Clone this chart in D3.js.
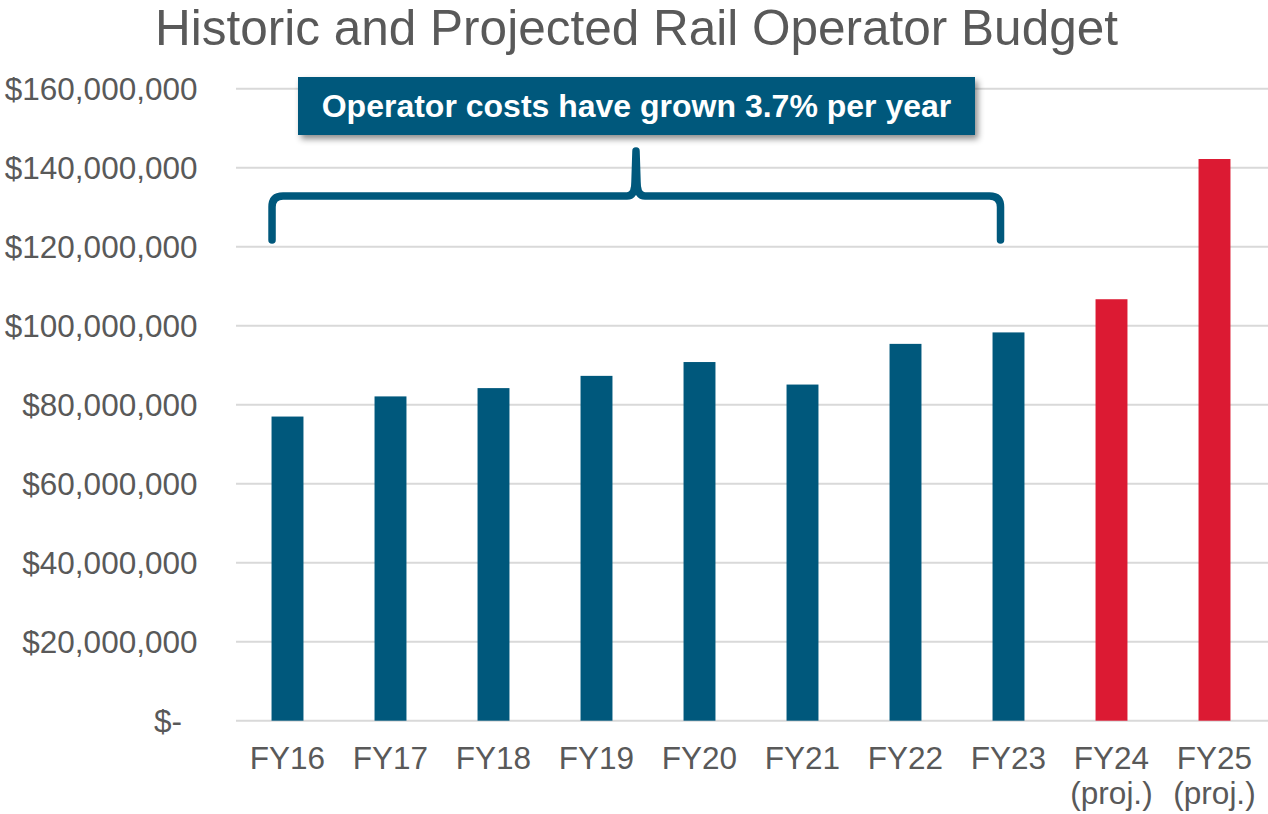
<!DOCTYPE html>
<html>
<head>
<meta charset="utf-8">
<script src="https://cdn.jsdelivr.net/npm/d3@7"></script>
<style>
  body { margin: 0; background: #fff; }
  svg { display: block; font-family: "Liberation Sans", Arial, sans-serif; }
  .tick-label { fill: #595959; font-size: 31.5px; }
  .title { fill: #595959; font-size: 49.5px; }
  .callout-text { fill: #fff; font-size: 32px; font-weight: bold; }
</style>
</head>
<body>
<div id="chart"></div>
<script>
// Betriebskosten je Geschäftsjahr (USD)
const years = ["FY16", "FY17", "FY18", "FY19", "FY20", "FY21", "FY22", "FY23", "FY24", "FY25"];
const yearSub = ["", "", "", "", "", "", "", "", "(proj.)", "(proj.)"];
const costs = [77.0e6, 82.1e6, 84.2e6, 87.3e6, 90.8e6, 85.1e6, 95.4e6, 98.3e6, 106.7e6, 142.2e6];
const kind = ["hist", "hist", "hist", "hist", "hist", "hist", "hist", "hist", "proj", "proj"];
const yTicks = [0, 20e6, 40e6, 60e6, 80e6, 100e6, 120e6, 140e6, 160e6];
const yTickLabels = ["$-", "$20,000,000", "$40,000,000", "$60,000,000", "$80,000,000",
  "$100,000,000", "$120,000,000", "$140,000,000", "$160,000,000"];

const W = 1268, H = 814;
const BLUE = "#00587c";
const RED = "#dc1a33";
const GRID = "#d9d9d9";

const svg = d3.select("#chart").append("svg")
  .attr("width", W)
  .attr("height", H);

const defs = svg.append("defs");
defs.append("filter")
  .attr("id", "shadow")
  .attr("x", "-10%").attr("y", "-30%")
  .attr("width", "120%").attr("height", "170%")
  .append("feDropShadow")
  .attr("dx", 3).attr("dy", 4)
  .attr("stdDeviation", 3)
  .attr("flood-color", "#000")
  .attr("flood-opacity", 0.45);

const x = d3.scaleBand()
  .domain(years)
  .range([236, 1266])
  .paddingInner(0.69)
  .paddingOuter(0.345);

const y = d3.scaleLinear()
  .domain([0, 160e6])
  .range([720.7, 88.7]);

// Titel
svg.append("text")
  .attr("class", "title")
  .attr("x", 636.5)
  .attr("y", 45)
  .attr("text-anchor", "middle")
  .text("Historic and Projected Rail Operator Budget");

// Gitterlinien + y-Beschriftung
const yAxis = svg.append("g");
yAxis.selectAll("line")
  .data(yTicks)
  .join("line")
  .attr("x1", 236)
  .attr("x2", W)
  .attr("y1", d => y(d))
  .attr("y2", d => y(d))
  .attr("stroke", GRID)
  .attr("stroke-width", 2);

yAxis.selectAll("text")
  .data(yTicks)
  .join("text")
  .attr("class", "tick-label")
  .attr("x", d => d === 0 ? 182 : 197.5)
  .attr("y", d => y(d))
  .attr("dy", "0.35em")
  .attr("text-anchor", "end")
  .text((d, i) => yTickLabels[i]);

// Balken
svg.append("g").selectAll("rect")
  .data(years)
  .join("rect")
  .attr("x", d => x(d))
  .attr("width", x.bandwidth())
  .attr("y", (d, i) => y(costs[i]))
  .attr("height", (d, i) => y(0) - y(costs[i]))
  .attr("fill", (d, i) => kind[i] === "proj" ? RED : BLUE);

// x-Beschriftung (zweizeilig für Projektionen)
const xLab = svg.append("g").selectAll("text")
  .data(years)
  .join("text")
  .attr("class", "tick-label")
  .attr("x", d => x(d) + x.bandwidth() / 2)
  .attr("y", 769)
  .attr("text-anchor", "middle");
xLab.append("tspan").text(d => d);
xLab.append("tspan")
  .attr("x", d => x(d) + x.bandwidth() / 2)
  .attr("dy", 35)
  .text((d, i) => yearSub[i]);

// Geschweifte Klammer über FY16–FY23
const xL = x("FY16") + 0.5;
const xR = x("FY23") + x.bandwidth() / 4;
const xC = 636;
const yBot = 240, yBar = 196, yTip = 151, r = 11;
const brace = d3.path();
brace.moveTo(xL, yBot);
brace.lineTo(xL, yBar + r);
brace.quadraticCurveTo(xL, yBar, xL + r, yBar);
brace.lineTo(xC - 9, yBar);
brace.quadraticCurveTo(xC - 1, yBar, xC - 1, yBar - 14);
brace.lineTo(xC, yTip);
brace.moveTo(xR, yBot);
brace.lineTo(xR, yBar + r);
brace.quadraticCurveTo(xR, yBar, xR - r, yBar);
brace.lineTo(xC + 9, yBar);
brace.quadraticCurveTo(xC + 1, yBar, xC + 1, yBar - 14);
brace.lineTo(xC, yTip);
svg.append("path")
  .attr("d", brace.toString())
  .attr("fill", "none")
  .attr("stroke", BLUE)
  .attr("stroke-width", 7.5)
  .attr("stroke-linecap", "round")
  .attr("stroke-linejoin", "round");

// Callout-Box
svg.append("rect")
  .attr("x", 298)
  .attr("y", 77)
  .attr("width", 677)
  .attr("height", 58)
  .attr("fill", BLUE)
  .attr("filter", "url(#shadow)");
svg.append("text")
  .attr("class", "callout-text")
  .attr("x", 636.5)
  .attr("y", 117)
  .attr("text-anchor", "middle")
  .text("Operator costs have grown 3.7% per year");
</script>
</body>
</html>
